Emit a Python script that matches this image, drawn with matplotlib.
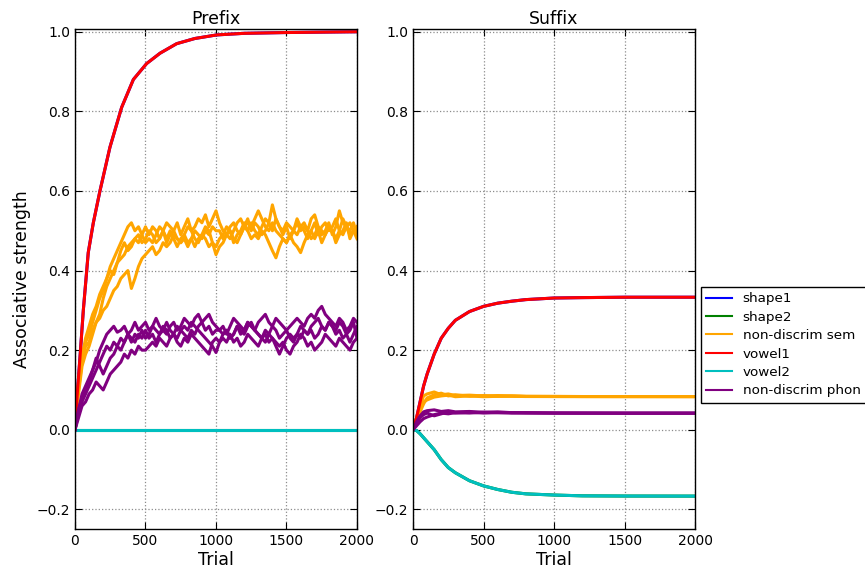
import matplotlib
matplotlib.use("Agg")
import matplotlib.pyplot as plt

# trial grid for the noisy prefix runs (every 25 trials)
trials = list(range(0, 2001, 25))

# prefix: vowel1 (shape1 runs underneath it), vowel2 / shape2 stay at zero
pre_v1_trials = [0, 12, 35, 59, 94, 130, 177, 248, 331, 414, 508, 603, 721, 850, 1005, 1200, 1500, 2000]
pre_v1 = [0, 0.07, 0.18, 0.30, 0.445, 0.52, 0.60, 0.71, 0.81, 0.88, 0.92, 0.946, 0.97, 0.983,
          0.992, 0.996, 0.998, 1.0]
pre_v2_trials = [0, 2000]
pre_v2 = [0.0, 0.0]

# prefix: non-discrim sem runs (rows of 10 = 250 trials)
pre_sem = [
    [0.02,
     0.11, 0.18, 0.23, 0.26, 0.29, 0.31, 0.34, 0.36, 0.38, 0.41,
     0.43, 0.45, 0.47, 0.49, 0.51, 0.52, 0.50, 0.51, 0.49, 0.51,
     0.49, 0.51, 0.50, 0.48, 0.50, 0.52, 0.51, 0.50, 0.52, 0.49,
     0.51, 0.53, 0.50, 0.51, 0.53, 0.52, 0.54, 0.51, 0.53, 0.55,
     0.52, 0.50, 0.49, 0.51, 0.52, 0.50, 0.49, 0.51, 0.53, 0.50,
     0.52, 0.51, 0.49, 0.50, 0.52, 0.50, 0.53, 0.51, 0.50, 0.52,
     0.51, 0.50, 0.53, 0.51, 0.50, 0.48, 0.50, 0.52, 0.49, 0.51,
     0.52, 0.50, 0.51, 0.53, 0.50, 0.49, 0.51, 0.52, 0.50, 0.51],
    [0.02,
     0.09, 0.16, 0.19, 0.21, 0.24, 0.27, 0.29, 0.33, 0.36, 0.38,
     0.40, 0.42, 0.43, 0.44, 0.46, 0.47, 0.48, 0.49, 0.47, 0.48,
     0.50, 0.49, 0.47, 0.48, 0.50, 0.47, 0.49, 0.50, 0.48, 0.47,
     0.49, 0.51, 0.50, 0.48, 0.47, 0.49, 0.48, 0.46, 0.47, 0.46,
     0.48, 0.49, 0.51, 0.50, 0.48, 0.47, 0.49, 0.51, 0.50, 0.52,
     0.50, 0.49, 0.51, 0.53, 0.52, 0.565, 0.53, 0.51, 0.49, 0.51,
     0.48, 0.50, 0.49, 0.51, 0.52, 0.50, 0.53, 0.54, 0.51, 0.50,
     0.49, 0.51, 0.50, 0.47, 0.49, 0.50, 0.52, 0.48, 0.50, 0.51],
    [0.02,
     0.10, 0.17, 0.21, 0.22, 0.25, 0.27, 0.28, 0.30, 0.31, 0.33,
     0.35, 0.36, 0.38, 0.39, 0.40, 0.355, 0.38, 0.41, 0.43, 0.44,
     0.45, 0.46, 0.44, 0.45, 0.47, 0.46, 0.47, 0.49, 0.48, 0.47,
     0.48, 0.46, 0.48, 0.50, 0.49, 0.48, 0.50, 0.49, 0.51, 0.50,
     0.50, 0.48, 0.49, 0.50, 0.47, 0.49, 0.50, 0.52, 0.50, 0.48,
     0.49, 0.48, 0.50, 0.49, 0.47, 0.45, 0.432, 0.46, 0.48, 0.47,
     0.49, 0.50, 0.52, 0.50, 0.51, 0.50, 0.48, 0.49, 0.51, 0.49,
     0.50, 0.52, 0.49, 0.51, 0.55, 0.52, 0.51, 0.49, 0.50, 0.48],
    [0.02,
     0.12, 0.19, 0.22, 0.24, 0.27, 0.30, 0.33, 0.35, 0.38, 0.40,
     0.39, 0.42, 0.45, 0.47, 0.45, 0.46, 0.48, 0.47, 0.49, 0.47,
     0.48, 0.47, 0.49, 0.51, 0.50, 0.48, 0.50, 0.48, 0.46, 0.48,
     0.49, 0.47, 0.48, 0.46, 0.48, 0.49, 0.51, 0.50, 0.47, 0.44,
     0.46, 0.47, 0.49, 0.48, 0.50, 0.52, 0.53, 0.51, 0.52, 0.51,
     0.53, 0.55, 0.53, 0.51, 0.50, 0.52, 0.50, 0.49, 0.48, 0.47,
     0.49, 0.47, 0.46, 0.445, 0.47, 0.49, 0.50, 0.48, 0.50, 0.47,
     0.49, 0.51, 0.50, 0.48, 0.50, 0.53, 0.51, 0.50, 0.52, 0.49],
]

# prefix: non-discrim phon runs
pre_phon = [
    [0.0,
     0.05, 0.08, 0.10, 0.12, 0.15, 0.17, 0.20, 0.22, 0.24, 0.25,
     0.26, 0.245, 0.25, 0.26, 0.24, 0.25, 0.27, 0.25, 0.26, 0.27,
     0.25, 0.26, 0.28, 0.26, 0.25, 0.24, 0.26, 0.27, 0.25, 0.26,
     0.28, 0.27, 0.26, 0.28, 0.29, 0.27, 0.28, 0.29, 0.27, 0.26,
     0.25, 0.26, 0.24, 0.26, 0.28, 0.27, 0.26, 0.25, 0.27, 0.26,
     0.25, 0.27, 0.28, 0.29, 0.27, 0.26, 0.28, 0.27, 0.26, 0.25,
     0.26, 0.27, 0.28, 0.27, 0.26, 0.28, 0.29, 0.28, 0.30, 0.31,
     0.29, 0.28, 0.27, 0.26, 0.28, 0.27, 0.25, 0.26, 0.28, 0.27],
    [0.0,
     0.04, 0.07, 0.09, 0.11, 0.13, 0.15, 0.17, 0.19, 0.21, 0.20,
     0.22, 0.21, 0.23, 0.22, 0.24, 0.22, 0.24, 0.23, 0.25, 0.23,
     0.24, 0.26, 0.25, 0.24, 0.26, 0.25, 0.23, 0.24, 0.26, 0.25,
     0.24, 0.23, 0.25, 0.24, 0.26, 0.27, 0.25, 0.26, 0.24, 0.25,
     0.25, 0.24, 0.25, 0.23, 0.24, 0.26, 0.25, 0.24, 0.26, 0.27,
     0.25, 0.24, 0.23, 0.25, 0.24, 0.26, 0.25, 0.23, 0.24, 0.25,
     0.23, 0.22, 0.24, 0.23, 0.25, 0.24, 0.25, 0.23, 0.24, 0.26,
     0.25, 0.27, 0.26, 0.24, 0.25, 0.23, 0.24, 0.22, 0.24, 0.26],
    [0.0,
     0.03, 0.06, 0.07, 0.09, 0.10, 0.12, 0.11, 0.10, 0.12, 0.14,
     0.15, 0.16, 0.17, 0.19, 0.18, 0.20, 0.19, 0.21, 0.20, 0.20,
     0.21, 0.22, 0.21, 0.23, 0.22, 0.21, 0.23, 0.24, 0.22, 0.21,
     0.23, 0.22, 0.24, 0.23, 0.22, 0.21, 0.20, 0.19, 0.22, 0.23,
     0.22, 0.23, 0.22, 0.24, 0.22, 0.23, 0.21, 0.22, 0.24, 0.23,
     0.22, 0.21, 0.23, 0.22, 0.24, 0.23, 0.22, 0.21, 0.22, 0.20,
     0.19, 0.21, 0.22, 0.24, 0.23, 0.21, 0.22, 0.20, 0.21, 0.22,
     0.24, 0.23, 0.22, 0.21, 0.23, 0.22, 0.21, 0.20, 0.22, 0.23],
    [0.0,
     0.05, 0.09, 0.11, 0.13, 0.15, 0.18, 0.16, 0.14, 0.16, 0.18,
     0.19, 0.21, 0.20, 0.22, 0.24, 0.23, 0.22, 0.24, 0.23, 0.25,
     0.23, 0.24, 0.22, 0.24, 0.25, 0.27, 0.25, 0.24, 0.23, 0.25,
     0.26, 0.25, 0.27, 0.26, 0.25, 0.24, 0.23, 0.22, 0.21, 0.194,
     0.22, 0.24, 0.25, 0.23, 0.24, 0.26, 0.24, 0.25, 0.27, 0.26,
     0.25, 0.24, 0.23, 0.24, 0.22, 0.23, 0.21, 0.19, 0.21, 0.23,
     0.24, 0.23, 0.24, 0.26, 0.25, 0.24, 0.26, 0.27, 0.28, 0.26,
     0.25, 0.27, 0.26, 0.25, 0.27, 0.26, 0.24, 0.25, 0.27, 0.23],
]

# suffix curves
suf_trials = [0, 25, 50, 75, 100, 150, 200, 250, 300, 400, 500, 600, 700, 800, 1000, 1200, 1500, 2000]
suf_v1 = [0, 0.03, 0.07, 0.11, 0.14, 0.19, 0.23, 0.255, 0.275, 0.297, 0.31, 0.318, 0.323, 0.327,
          0.331, 0.332, 0.333, 0.333]
suf_v2 = [0, -0.002, -0.01, -0.02, -0.03, -0.05, -0.075, -0.095, -0.108, -0.128, -0.141, -0.150,
          -0.157, -0.161, -0.164, -0.166, -0.1665, -0.1667]
suf_sem = [
    [0, 0.03, 0.06, 0.085, 0.09, 0.095, 0.088, 0.09, 0.086, 0.087, 0.085, 0.086, 0.085, 0.084, 0.084,
     0.0835, 0.0834, 0.0833],
    [0, 0.02, 0.045, 0.065, 0.08, 0.088, 0.092, 0.085, 0.088, 0.084, 0.086, 0.084, 0.085, 0.084,
     0.0835, 0.0834, 0.0834, 0.0833],
    [0, 0.025, 0.05, 0.07, 0.075, 0.082, 0.085, 0.087, 0.083, 0.085, 0.083, 0.084, 0.084, 0.0835,
     0.0834, 0.0834, 0.0833, 0.0833],
]
suf_phon = [
    [0, 0.02, 0.035, 0.045, 0.048, 0.05, 0.046, 0.048, 0.045, 0.046, 0.044, 0.045, 0.043, 0.043,
     0.042, 0.042, 0.0417, 0.0417],
    [0, 0.01, 0.02, 0.028, 0.032, 0.038, 0.042, 0.040, 0.043, 0.042, 0.044, 0.043, 0.043, 0.042,
     0.042, 0.0418, 0.0417, 0.0417],
    [0, 0.015, 0.03, 0.038, 0.042, 0.035, 0.04, 0.045, 0.042, 0.044, 0.042, 0.043, 0.042, 0.0425,
     0.042, 0.0418, 0.0417, 0.0417],
]

labels = ["shape1", "shape2", "non-discrim sem", "vowel1", "vowel2", "non-discrim phon"]
colors = ["blue", "green", "orange", "red", "c", "purple"]

fig = plt.figure(figsize=(8.65, 5.72), dpi=100)
ax1 = fig.add_axes([0.0867, 0.0747, 0.326, 0.874])
ax2 = fig.add_axes([0.4775, 0.0747, 0.326, 0.874])

lw = 2.2


def draw_panel(ax, v1_t, v1, v2_t, v2, run_t, sem_runs, phon_runs):
    ax.plot(v1_t, v1, color=colors[0], lw=lw)
    ax.plot(v2_t, v2, color=colors[1], lw=lw)
    for run in sem_runs:
        ax.plot(run_t, run, color=colors[2], lw=lw)
    ax.plot(v1_t, v1, color=colors[3], lw=lw)
    ax.plot(v2_t, v2, color=colors[4], lw=lw)
    for run in phon_runs:
        ax.plot(run_t, run, color=colors[5], lw=lw)
    ax.set_xlim(0, 2000)
    ax.set_ylim(-0.25, 1.006)
    ax.set_xticks([0, 500, 1000, 1500, 2000])
    ax.set_yticks([-0.2, 0.0, 0.2, 0.4, 0.6, 0.8, 1.0])
    ax.grid(True, linestyle=":", color="0.55", lw=0.9)
    ax.tick_params(direction="in", top=True, right=True, labelsize=10, length=5)
    ax.set_xlabel("Trial", fontsize=12.5, labelpad=2)
    for s in ax.spines.values():
        s.set_linewidth(1.0)


draw_panel(ax1, pre_v1_trials, pre_v1, pre_v2_trials, pre_v2, trials, pre_sem, pre_phon)
draw_panel(ax2, suf_trials, suf_v1, suf_trials, suf_v2, suf_trials, suf_sem, suf_phon)

ax1.set_title("Prefix", fontsize=12.5, pad=4)
ax2.set_title("Suffix", fontsize=12.5, pad=4)
ax1.set_ylabel("Associative strength", fontsize=12.5)

handles = [plt.Line2D([], [], color=c, lw=1.5) for c in colors]
leg = fig.legend(handles, labels, loc="upper left", bbox_to_anchor=(701 / 865, 1 - 287 / 572),
                 borderaxespad=0, fontsize=9.7, fancybox=False, edgecolor="black",
                 framealpha=1, labelspacing=0.4, handlelength=1.9)
leg.get_frame().set_linewidth(1.0)

fig.savefig("out.png", dpi=100)
